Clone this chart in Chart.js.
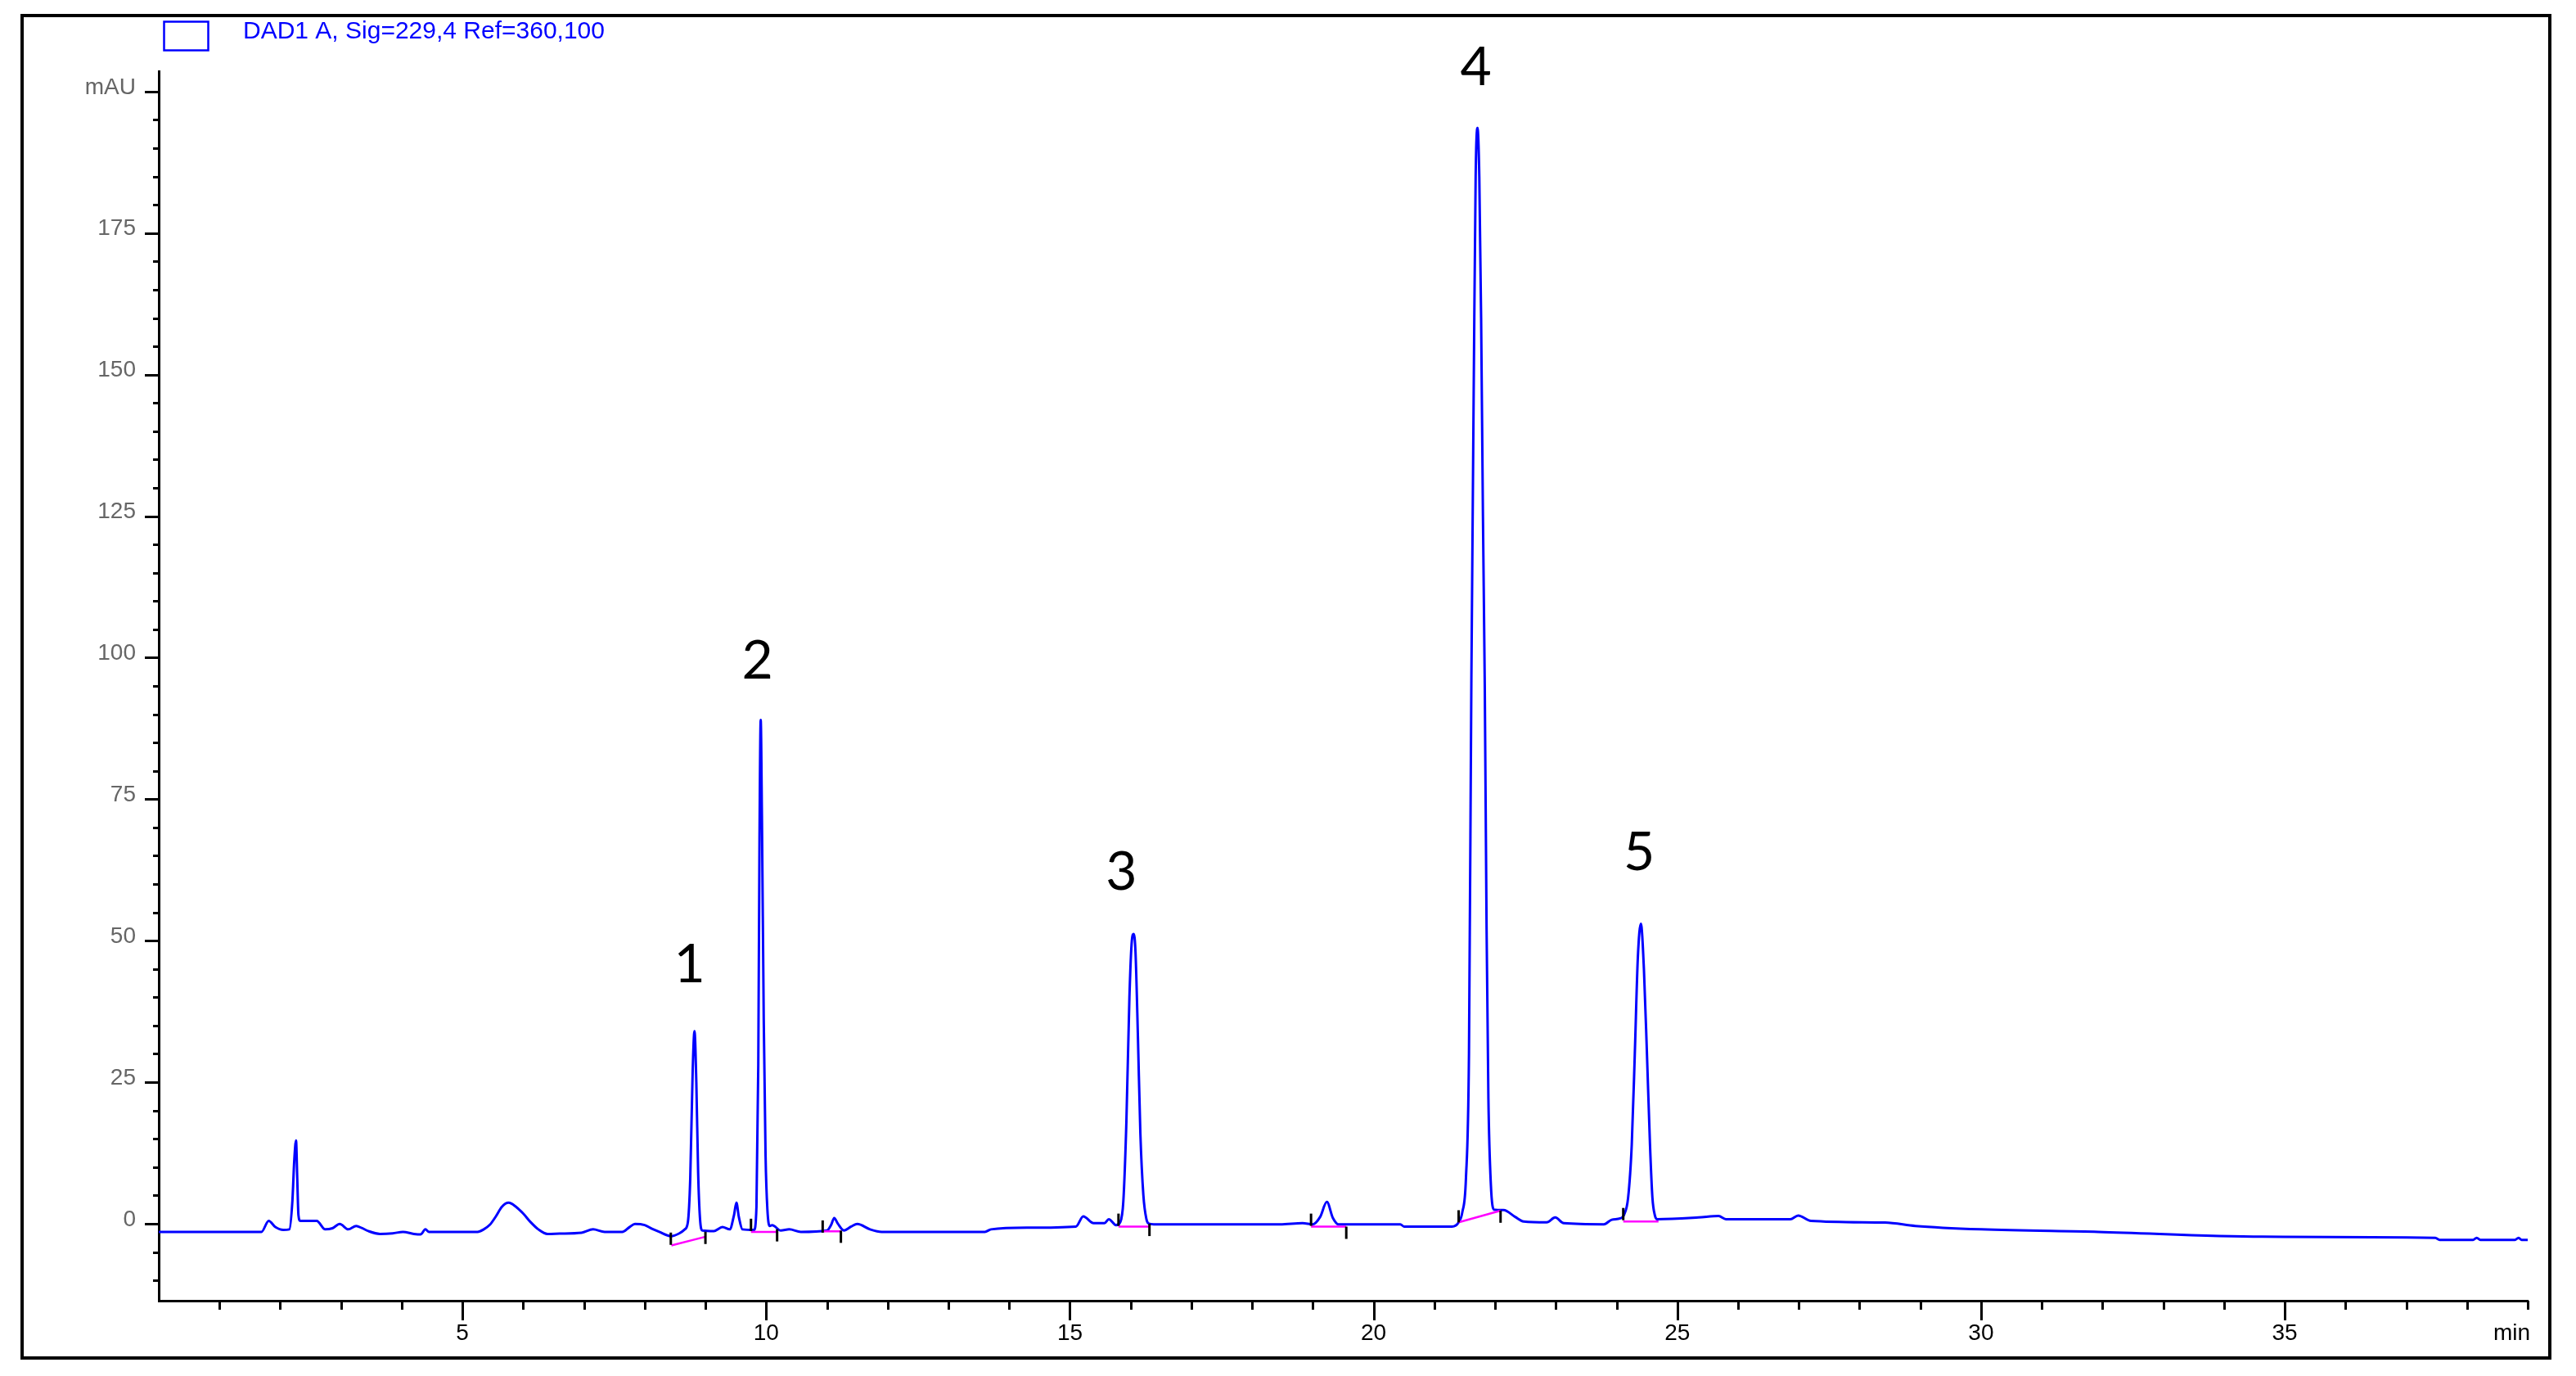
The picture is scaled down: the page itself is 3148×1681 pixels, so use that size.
<!DOCTYPE html>
<html>
<head>
<meta charset="utf-8">
<script src="https://cdn.jsdelivr.net/npm/chart.js@4.4.1/dist/chart.umd.min.js"></script>
<style>
  html, body { margin: 0; padding: 0; background: #fff; }
  #wrap { position: relative; width: 3148px; height: 1681px; }
  #chart { position: absolute; left: 0; top: 0; }
  /* outer frame round the whole report */
  #frame { position: absolute; left: 25px; top: 17px; width: 3093px; height: 1644px;
           border: 4px solid #000; box-sizing: border-box; pointer-events: none; }
</style>
</head>
<body>
<div id="wrap">
  <canvas id="chart" width="3148" height="1681"></canvas>
  <div id="frame"></div>
</div>
<script>
// signal name
const signalName = "DAD1 A, Sig=229,4 Ref=360,100";

// chromatogram (min, mAU)
const retentionTimes = [
    0.00, 1.69, 1.81, 1.92, 2.05, 2.15, 2.20, 2.23, 2.26, 2.28, 2.30, 2.33, 2.60, 2.74, 2.86, 2.98,
    3.12, 3.25, 3.35, 3.45, 3.64, 3.85, 4.02, 4.20, 4.31, 4.39, 4.45, 5.25, 5.35, 5.45, 5.55, 5.65,
    5.76, 5.88, 6.00, 6.12, 6.25, 6.40, 6.60, 6.96, 7.15, 7.34, 7.63, 7.75, 7.84, 8.00, 8.12, 8.24,
    8.43, 8.57, 8.66, 8.71, 8.75, 8.79, 8.82, 8.85, 8.88, 8.91, 8.95, 9.14, 9.28, 9.40, 9.47, 9.51,
    9.55, 9.61, 9.80, 9.84, 9.87, 9.89, 9.91, 9.93, 9.96, 9.99, 10.02, 10.06, 10.10, 10.24, 10.38, 10.57,
    11.00, 11.07, 11.12, 11.18, 11.28, 11.40, 11.50, 11.71, 11.90, 13.60, 13.70, 14.30, 15.10, 15.22, 15.39, 15.57,
    15.64, 15.76, 15.83, 15.88, 15.93, 15.98, 16.02, 16.05, 16.08, 16.12, 16.16, 16.21, 16.26, 16.30, 16.38, 18.46,
    18.83, 19.00, 19.12, 19.23, 19.33, 19.42, 20.44, 20.50, 21.29, 21.40, 21.46, 21.52, 21.57, 21.61, 21.65, 21.68,
    21.71, 21.74, 21.77, 21.80, 21.83, 21.86, 21.89, 21.93, 21.98, 22.14, 22.33, 22.47, 22.85, 22.99, 23.13, 23.79,
    23.92, 24.06, 24.12, 24.19, 24.25, 24.30, 24.35, 24.40, 24.45, 24.50, 24.55, 24.59, 24.63, 24.67, 25.35, 25.68,
    25.80, 26.86, 26.99, 27.20, 28.42, 28.92, 30.00, 31.93, 34.63, 37.48, 37.55, 38.10, 38.16, 38.22, 38.79, 38.85,
    38.90, 39.00
];
const absorbance = [
    -1.45, -1.45, 0.5, -0.6, -1.1, -1.0, 4, 11, 14.7, 8, 1.5, 0.5, 0.5, -1.0, -0.8, -0.05,
    -1.0, -0.4, -0.8, -1.3, -1.8, -1.7, -1.45, -1.8, -1.9, -1.0, -1.45, -1.45, -1.0, -0.2, 1.3, 3.0,
    3.7, 3.0, 1.8, 0.3, -1.0, -1.8, -1.75, -1.6, -1.0, -1.45, -1.45, -0.6, -0.05, -0.25, -0.9, -1.45,
    -2.2, -1.7, -1.0, 0.2, 8, 27, 34, 25, 9, 1, -1.2, -1.3, -0.6, -1.0, 1.5, 3.7,
    1.2, -1.0, -1.1, 3, 28, 68, 89, 72, 36, 12, 2.5, -0.4, -0.25, -1.2, -1.0, -1.45,
    -1.2, -0.2, 1.0, 0.0, -1.2, -0.5, -0.05, -1.0, -1.45, -1.45, -1.0, -0.7, -0.5, 1.3, 0.1, 0.1,
    0.8, -0.25, 0.3, 4, 18, 40, 50, 51.2, 48, 33, 16, 5, 0.8, 0.0, -0.1, -0.1,
    0.1, -0.1, 1.2, 3.85, 1.0, -0.1, -0.1, -0.5, -0.5, 0.25, 2, 8, 30, 97, 150, 185,
    193.6, 185, 160, 125, 95, 52, 22, 7, 2.5, 2.4, 1.2, 0.4, 0.25, 1.1, 0.1, -0.1,
    0.7, 0.95, 1.5, 4.6, 14, 30, 47, 53, 45, 30, 14, 4.6, 1.5, 0.8, 1.1, 1.35,
    0.8, 0.8, 1.45, 0.5, 0.2, -0.4, -1.0, -1.45, -2.3, -2.5, -2.85, -2.85, -2.5, -2.85, -2.85, -2.5,
    -2.85, -2.85
];

// integration baselines (pink)
const baseStartT = [8.44, 9.75, 10.94, 15.80, 18.97, 21.40, 24.11];
const baseStartY = [-3.85, -1.45, -1.35, -0.5, -0.5, 0.25, 0.4];
const baseEndT = [9.00, 10.17, 11.23, 16.30, 19.55, 22.09, 24.69];
const baseEndY = [-2.3, -1.45, -1.35, -0.5, -0.5, 2.3, 0.4];

// peak start / end marks (black)
const markerTimes = [8.43, 9.00, 9.75, 10.18, 10.93, 11.23, 15.80, 16.31, 18.97, 19.55, 21.40, 22.09, 24.11];
const markerLevels = [-2.65, -2.5, -0.2, -2.05, -0.5, -2.3, 0.7, -1.1, 0.7, -1.6, 1.3, 1.25, 1.7];

// numbered peaks
const peakNames = ['1', '2', '3', '4', '5'];
const peakTimes = [8.82, 9.91, 16.05, 21.71, 24.40];

// axes
const xMin = 0, xMax = 39, xUnit = 'min';
const xLabelTicks = [5, 10, 15, 20, 25, 30, 35];
const yMin = -13.6, yMax = 203.6, yUnit = 'mAU';
const yLabelTicks = [0, 25, 50, 75, 100, 125, 150, 175];
const yUnitTick = 200;

// label nudges, px (dx, dy from the apex)
const labelShift = [[-6, -84], [-4, -74], [-15, -78], [-2, -76], [-2, -89]];

function buildTrace() {
    return retentionTimes.map((t, i) => ({ x: t, y: absorbance[i] }));
}
function buildBaselines() {
    const pts = [];
    baseStartT.forEach((t, i) => {
        pts.push({ x: t, y: baseStartY[i] });
        pts.push({ x: baseEndT[i], y: baseEndY[i] });
        pts.push({ x: baseEndT[i], y: null }); // break
    });
    return pts;
}
function buildMarkers() {
    return markerTimes.map((t, i) => ({ x: t, y: markerLevels[i] }));
}

// minor / major tick marks on both axes
const axisTicks = {
    id: 'axisTicks',
    afterDraw(chart) {
        const { ctx, scales: { x, y } } = chart;
        ctx.save();
        ctx.strokeStyle = '#000';
        ctx.lineWidth = 3;
        ctx.beginPath();
        y.ticks.forEach(t => {
            const py = Math.round(y.getPixelForValue(t.value)) + 0.5;
            const len = Math.round(t.value) % 25 === 0 ? 17 : 7;
            ctx.moveTo(y.right - len, py);
            ctx.lineTo(y.right, py);
        });
        x.ticks.forEach(t => {
            if (t.value === xMin) return;
            const px = Math.round(x.getPixelForValue(t.value)) + 0.5;
            const len = Math.round(t.value) % 5 === 0 ? 24 : 11;
            ctx.moveTo(px, x.top);
            ctx.lineTo(px, x.top + len);
        });
        ctx.stroke();
        ctx.restore();
    }
};

// legend box + signal name, and the peak numbers
const annotations = {
    id: 'annotations',
    afterDraw(chart) {
        const { ctx, scales: { x, y } } = chart;
        const ds = chart.data.datasets[0];
        ctx.save();
        ctx.strokeStyle = ds.borderColor;
        ctx.lineWidth = 2.5;
        ctx.strokeRect(200.5, 26.5, 54, 35);
        ctx.fillStyle = ds.borderColor;
        ctx.font = '30px "Liberation Sans", Arial, sans-serif';
        ctx.textAlign = 'left';
        ctx.textBaseline = 'alphabetic';
        ctx.fillText(ds.label, 297, 47);

        ctx.fillStyle = '#000';
        ctx.font = '66px Lato, "Open Sans", sans-serif';
        ctx.textAlign = 'center';
        peakNames.forEach((name, i) => {
            const idx = retentionTimes.indexOf(peakTimes[i]);
            const px = x.getPixelForValue(peakTimes[i]) + labelShift[i][0];
            const py = y.getPixelForValue(absorbance[idx]) + labelShift[i][1];
            ctx.fillText(name, px, py + 24);
        });
        ctx.restore();
    }
};

new Chart(document.getElementById('chart'), {
    type: 'line',
    data: {
        datasets: [
            {
                label: signalName,
                data: buildTrace(),
                borderColor: '#0000ff',
                borderWidth: 3,
                pointRadius: 0,
                cubicInterpolationMode: 'monotone',
                order: 3
            },
            {
                label: 'baseline',
                data: buildBaselines(),
                borderColor: '#ff00ff',
                borderWidth: 2.5,
                pointRadius: 0,
                spanGaps: false,
                tension: 0,
                order: 2
            },
            {
                label: 'marks',
                data: buildMarkers(),
                showLine: false,
                pointStyle: 'line',
                rotation: 90,
                pointRadius: 7.5,
                pointBorderWidth: 3,
                pointBorderColor: '#000',
                borderColor: '#000',
                order: 1
            }
        ]
    },
    options: {
        responsive: false,
        devicePixelRatio: 1,
        animation: false,
        layout: { padding: { left: 0, top: 87, right: 59, bottom: 0 } },
        plugins: { legend: { display: false }, tooltip: { enabled: false } },
        scales: {
            x: {
                type: 'linear',
                min: xMin,
                max: xMax,
                grid: { display: false, drawTicks: false },
                border: { display: true, color: '#000', width: 3 },
                afterFit: s => { s.height = 92; s.paddingLeft = 0; s.paddingRight = 0; },
                ticks: {
                    stepSize: 1,
                    autoSkip: false,
                    maxRotation: 0,
                    minRotation: 0,
                    padding: 23,
                    color: '#000',
                    font: { family: '"Liberation Sans", Arial, sans-serif', size: 28 },
                    callback: v => {
                        // unit sits left of the last tick, as in the report
                        if (v === xMax) return xUnit + '\u2007\u2007 ';
                        return xLabelTicks.includes(Math.round(v)) ? String(Math.round(v)) : '';
                    }
                }
            },
            y: {
                min: yMin,
                max: yMax,
                grid: { display: false, drawTicks: false },
                border: { display: true, color: '#000', width: 3 },
                afterFit: s => { s.width = 194; },
                ticks: {
                    stepSize: 5,
                    includeBounds: false,
                    autoSkip: false,
                    padding: 28,
                    labelOffset: -5,
                    color: '#666',
                    font: { family: '"Liberation Sans", Arial, sans-serif', size: 28 },
                    callback: v => {
                        const r = Math.round(v);
                        if (r === yUnitTick) return yUnit;
                        return yLabelTicks.includes(r) ? String(r) : '';
                    }
                }
            }
        }
    },
    plugins: [axisTicks, annotations]
});
</script>
</body>
</html>
